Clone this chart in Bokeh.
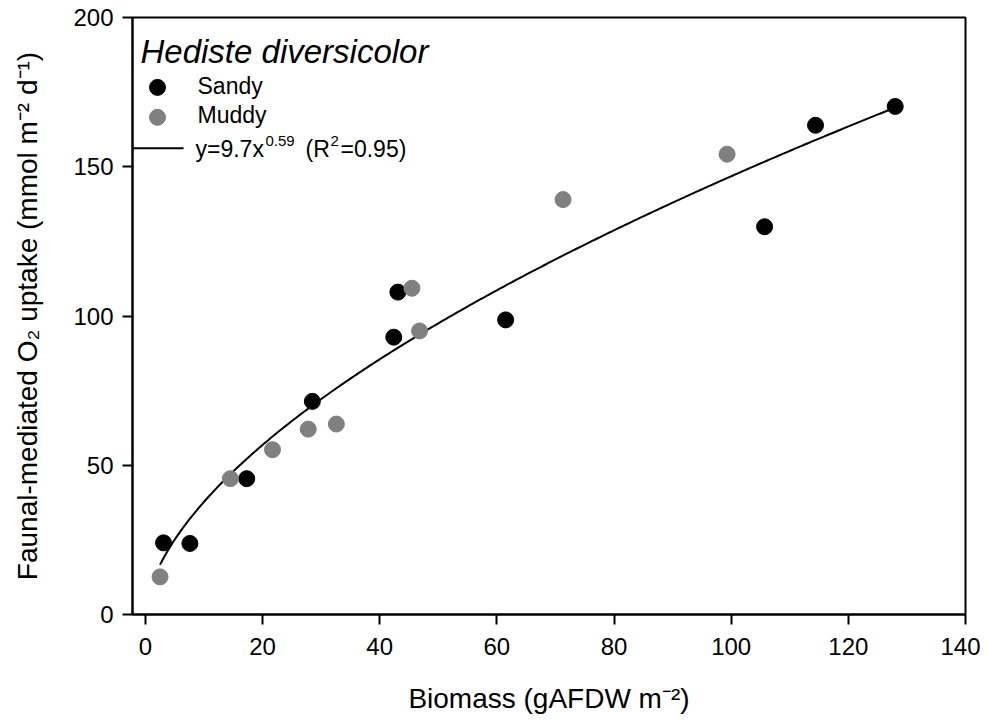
import numpy as np
from bokeh.plotting import figure
from bokeh.models import Label, FixedTicker, Range1d
from bokeh.embed import file_html
from bokeh.resources import INLINE

# ---- data ----
sandy_x = [3.1, 7.6, 17.3, 28.5, 42.4, 43.1, 61.5, 105.7, 114.4, 128.0]
sandy_y = [24.0, 23.8, 45.5, 71.4, 92.9, 108.0, 98.7, 129.9, 163.9, 170.2]
muddy_x = [2.5, 14.5, 21.7, 27.8, 32.6, 45.5, 46.8, 71.3, 99.3]
muddy_y = [12.6, 45.5, 55.2, 62.1, 63.8, 109.3, 95.0, 139.0, 154.2]
fit_a = 9.7
fit_b = 0.59
fit_r2 = 0.95
x_ticks = [0, 20, 40, 60, 80, 100, 120, 140]
y_ticks = [0, 50, 100, 150, 200]

FONT = "Liberation Sans"
X0, X1 = -2.2, 140
Y0, Y1 = 0, 200

p = figure(width=980, height=716,
           x_range=Range1d(X0, X1), y_range=Range1d(Y0, Y1),
           output_backend="svg", toolbar_location=None,
           min_border_left=132, min_border_right=15,
           min_border_top=17, min_border_bottom=101)
p.grid.visible = False
p.outline_line_color = "black"
p.outline_line_width = 2
p.background_fill_color = "white"
p.border_fill_color = "white"

for ax in (p.xaxis[0], p.yaxis[0]):
    ax.axis_line_color = "black"
    ax.axis_line_width = 2
    ax.major_tick_line_color = "black"
    ax.major_tick_line_width = 2
    ax.major_tick_out = 10
    ax.major_tick_in = 0
    ax.minor_tick_line_color = None
    ax.major_label_text_font = FONT
    ax.major_label_text_font_size = "24px"
    ax.major_label_text_color = "black"
    ax.axis_label_text_font = FONT
    ax.axis_label_text_font_style = "normal"
    ax.axis_label_text_color = "black"
    ax.axis_label_text_font_size = "28px"

p.xaxis[0].ticker = FixedTicker(ticks=x_ticks)
p.yaxis[0].ticker = FixedTicker(ticks=y_ticks)
p.xaxis[0].major_label_standoff = 13
p.yaxis[0].major_label_standoff = 9
p.xaxis[0].axis_label = "Biomass (gAFDW m\u207b\u00b2)"
p.yaxis[0].axis_label = "Faunal-mediated O\u2082 uptake (mmol m\u207b\u00b2 d\u207b\u00b9)"
p.xaxis[0].axis_label_standoff = 25
p.yaxis[0].axis_label_standoff = 27

# fit curve
all_x = sandy_x + muddy_x
xf = np.linspace(min(all_x), max(all_x), 300)
yf = fit_a * xf ** fit_b
p.line(xf, yf, line_color="black", line_width=2)

p.scatter(sandy_x, sandy_y, size=16, fill_color="black", line_color="black")
p.scatter(muddy_x, muddy_y, size=16, fill_color="#808080", line_color="#808080")

# ---- legend built by hand (canvas pixel layout -> data via ranges) ----
FL, FR, FT, FB = 132, 965, 17, 615
def dx(px):
    return X0 + (px - FL) / (FR - FL) * (X1 - X0)
def dy(py):
    return Y1 - (py - FT) / (FB - FT) * (Y1 - Y0)

p.scatter([dx(157)], [dy(87)], size=16, fill_color="black", line_color="black")
p.scatter([dx(157)], [dy(117)], size=16, fill_color="#808080", line_color="#808080")
p.line([dx(132), dx(183)], [dy(148), dy(148)], line_color="black", line_width=2)

def lab(px, py, text, size="23px", style="normal"):
    p.add_layout(Label(x=dx(px), y=dy(py), text=text, text_font=FONT,
                       text_font_size=size, text_font_style=style,
                       text_color="black", text_baseline="alphabetic",
                       text_align="left"))

lab(140, 51, "Hediste diversicolor", size="33px", style="italic")
lab(197, 86, "Sandy")
lab(197, 115, "Muddy")
lab(195, 149, "y=%.1fx" % fit_a)
lab(265, 141, "%.2f" % fit_b, size="15px")
lab(305, 149, "(R")
lab(330, 141, "2", size="15px")
lab(340, 149, "=%.2f)" % fit_r2)

open("out.html", "w").write(file_html(p, INLINE))
